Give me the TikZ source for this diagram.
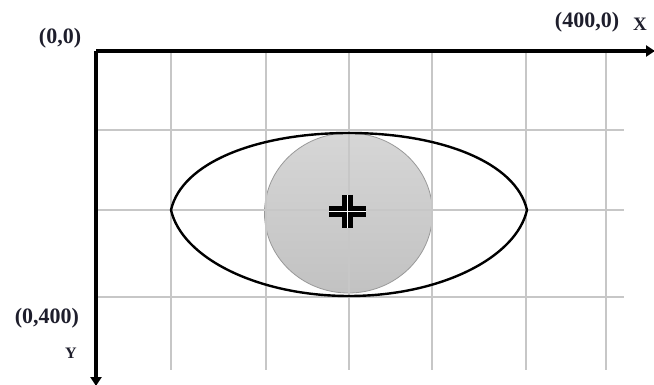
\documentclass[tikz,border=0pt]{standalone}
\usepackage{fontspec}
\setmainfont{Liberation Serif}
\usepackage{xcolor}
\usetikzlibrary{arrows.meta,positioning}
\definecolor{labelink}{RGB}{30,30,44}

\begin{document}
\begin{tikzpicture}[x=1pt, y=-1pt,
  gridline/.style={draw=black!22, line width=1.3pt},
  axis/.style={line width=3.5pt, -{Triangle[length=9pt, width=11pt]}},
  lens/.style={draw=black, line width=2.4pt},
  iris/.style={draw=black!40, line width=0.8pt, top color=black!16, bottom color=black!24},
  crossmark/.style={line width=5.4pt, double=white, double distance=0.9pt},
  coordtext/.style={font=\fontsize{22}{22}\selectfont\bfseries, text=labelink, inner sep=0pt},
  axistext/.style={font=\fontsize{19}{19}\selectfont\bfseries, text=labelink, inner sep=0pt}
]
  \useasboundingbox (0,0) rectangle (654,385);

  % Coordinates
  \coordinate (origin) at (96,51);
  \coordinate (xend) at (655,51);
  \coordinate (yend) at (96,386);
  \coordinate (tipL) at (171,210);
  \coordinate (tipR) at (527,210);
  \coordinate (lidT) at (349,133);
  \coordinate (lidB) at (349,296);
  \coordinate (centre) at (348.5,213);

  % Iris
  \path[iris] (centre) ellipse [x radius=84pt, y radius=80pt];

  % Grid
  \foreach \gx in {171,266,349,432,526,606}
    \draw[gridline] (\gx,51) -- (\gx,370);
  \foreach \gy in {130,210,297}
    \draw[gridline] (96,\gy) -- (624,\gy);

  % Eye outline
  \draw[lens] (tipL) .. controls (182,162) and (258,133) .. (lidT)
              .. controls (440,133) and (516,162) .. (tipR)
              .. controls (516,258) and (440,296) .. (lidB)
              .. controls (258,296) and (182,258) .. (tipL) -- cycle;

  % Centre mark
  \draw[crossmark] (329,211.5) -- (366,211.5) (347.5,195) -- (347.5,228);

  % Axes
  \draw[axis] (origin) -- (xend);
  \draw[axis] (origin) -- (yend);

  % Labels
  \node[coordtext] (orig) at (60,38) {(0,0)};
  \node[coordtext] (xmax) at (587,22) {(400,0)};
  \node[axistext] (xlab) at (640,24) {X};
  \node[coordtext] (ymax) at (47,318) {(0,400)};
  \node[axistext, font=\fontsize{16}{16}\selectfont\bfseries] (ylab) at (71,353) {Y};
\end{tikzpicture}
\end{document}
